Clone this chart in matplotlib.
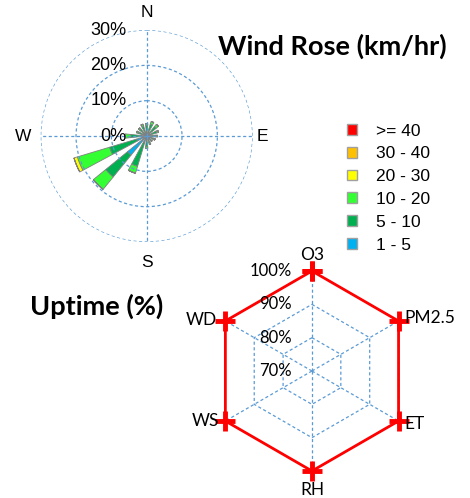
import numpy as np
import matplotlib.pyplot as plt
from matplotlib.patches import Patch

# wind rose data (% of time), 16 direction bins
directions = np.arange(0, 360, 22.5)
speed_bins = ['1 - 5', '5 - 10', '10 - 20', '20 - 30', '30 - 40', '>= 40']
bin_colors = ['#00B0F0', '#00B050', '#33FF33', '#FFFF00', '#FFC000', '#FF0000']

#            N    NNE  NE   ENE  E    ESE  SE   SSE  S    SSW  SW   WSW  W    WNW  NW   NNW
freq_1_5 = [1.0, 1.0, 1.0, 1.0, 1.0, 1.0, 1.0, 1.0, 1.0, 2.0, 7.0, 3.0, 1.5, 1.0, 1.0, 1.0]
freq_5_10 = [2.0, 2.5, 2.5, 2.0, 1.5, 1.0, 0.8, 1.0, 2.0, 7.0, 8.0, 8.0, 3.0, 1.5, 1.5, 2.0]
freq_10_20 = [0.5, 0.8, 0.8, 0.5, 0.5, 0.5, 0.2, 0.5, 0.5, 2.0, 4.5, 9.5, 1.5, 0.5, 0.5, 0.5]
freq_20_30 = [0.0, 0.0, 0.0, 0.0, 0.0, 0.0, 0.0, 0.0, 0.0, 0.0, 0.0, 1.0, 0.0, 0.0, 0.0, 0.0]
freq_30_40 = [0.0] * 16
freq_40_up = [0.0] * 16

# uptime data
params = ['O3', 'PM2.5', 'ET', 'RH', 'WS', 'WD']
uptime = [100, 100, 100, 100, 100, 100]

grid_col = '#5B9BD5'
plt.rcParams['font.family'] = ['Liberation Sans', 'DejaVu Sans']

fig = plt.figure(figsize=(4.7, 4.98), dpi=100)

# ---- wind rose ----
ax = fig.add_axes([0.0866, 0.514, 0.451, 0.4257], projection='polar')
ax.set_theta_zero_location('N')
ax.set_theta_direction(-1)
theta = np.radians(directions)
bottom = np.zeros(len(directions))
handles = []
for freq, col, lab in zip([freq_1_5, freq_5_10, freq_10_20, freq_20_30, freq_30_40, freq_40_up],
                          bin_colors, speed_bins):
    freq = np.array(freq)
    ax.bar(theta, freq, width=np.radians(11.5), bottom=bottom, color=col,
           edgecolor='#808080', linewidth=0.6)
    bottom = bottom + freq
    handles.append(Patch(facecolor=col, edgecolor='#A0A0A0', label=lab))

ax.set_ylim(0, 30)
ax.set_yticks([10, 20, 30])
ax.set_yticklabels([])
ax.set_xticks(np.radians([0, 90, 180, 270]))
ax.set_xticklabels([])
ax.grid(True, color=grid_col, linestyle=(0, (2.5, 2)), linewidth=0.9)
ax.spines['polar'].set_visible(False)
ax.set_facecolor('none')

for r in [0, 10, 20, 30]:
    ax.annotate(f'{r}%', xy=(0, r), xytext=(-20, 0), textcoords='offset pixels',
                ha='right', va='center', fontsize=13)
for lab, ang, off in [('N', 0, (0, 18)), ('E', 90, (10, 0)), ('S', 180, (0, -20)), ('W', 270, (-18, 0))]:
    ax.annotate(lab, xy=(np.radians(ang), 30), xytext=off, textcoords='offset pixels',
                ha='center', va='center', fontsize=12.5, annotation_clip=False)

fig.text(0.706, 0.906, 'Wind Rose (km/hr)', ha='center', va='center',
         fontsize=19.5, fontweight='bold', family=['Lato', 'DejaVu Sans'])

fig.legend(handles=handles[::-1], loc='upper left', bbox_to_anchor=(0.738, 0.752),
           frameon=False, fontsize=12.5, handlelength=0.57, handleheight=0.57,
           handletextpad=1.1, labelspacing=0.45, borderpad=0, borderaxespad=0)

# ---- uptime radar ----
rx = fig.add_axes([0.451, 0.0542, 0.4255, 0.4016], projection='polar')
rx.set_theta_zero_location('N')
rx.set_theta_direction(-1)
angles = np.radians(np.arange(0, 360, 60))
rx.set_ylim(70, 100)
rx.grid(False)
rx.set_xticks([])
rx.set_yticks([])
rx.spines['polar'].set_visible(False)
rx.set_facecolor('none')
closed = np.append(angles, angles[0])
for r in [80, 90, 100]:
    rx.plot(closed, [r] * 7, color=grid_col, linestyle=(0, (2.5, 2)), linewidth=0.9)
for a in angles:
    rx.plot([a, a], [70, 100], color=grid_col, linestyle=(0, (2.5, 2)), linewidth=0.9)

vals = np.append(uptime, uptime[0])
rx.plot(closed, vals, color='#FF0000', linewidth=2, marker='+', markersize=14,
        markeredgewidth=3.5, clip_on=False)

for r in [70, 80, 90, 100]:
    rx.annotate(f'{r}%', xy=(0, r), xytext=(-20, 0), textcoords='offset pixels',
                ha='right', va='center', fontsize=12, family=['Lato', 'DejaVu Sans'])
label_pos = [((0, 16), 'center'), ((6, 3), 'left'), ((6, -3), 'left'),
             ((0, -19), 'center'), ((-6, 0), 'right'), ((-8, 1), 'right')]
for p, a, (off, ha) in zip(params, angles, label_pos):
    rx.annotate(p, xy=(a, 100), xytext=off, textcoords='offset pixels',
                ha=ha, va='center', fontsize=12.5, family=['Lato', 'DejaVu Sans'],
                annotation_clip=False)

fig.text(0.206, 0.384, 'Uptime (%)', ha='center', va='center',
         fontsize=19.5, fontweight='bold', family=['Lato', 'DejaVu Sans'])

fig.savefig('out.png', dpi=100)
